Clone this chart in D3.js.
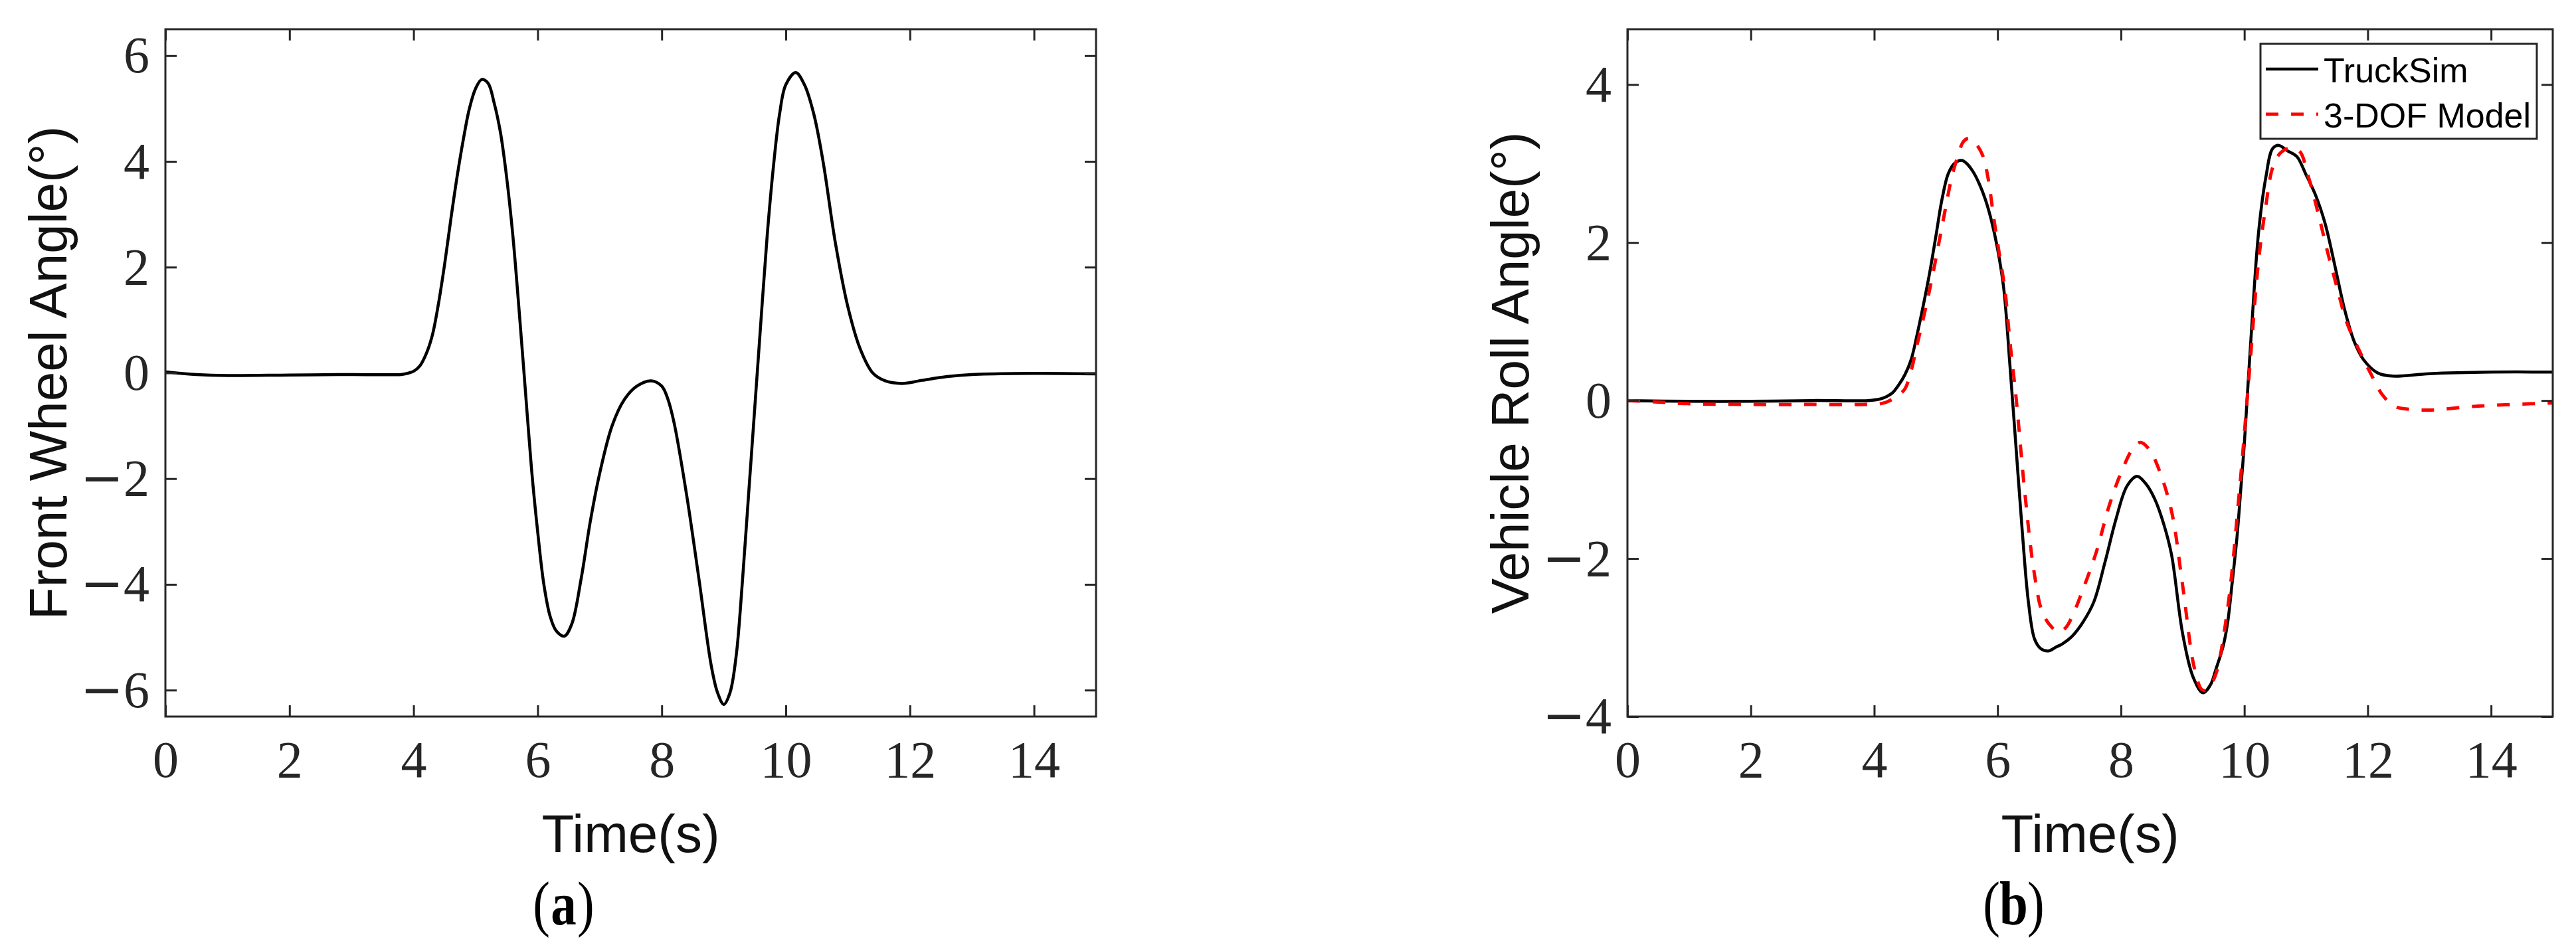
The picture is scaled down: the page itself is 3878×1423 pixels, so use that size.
<!DOCTYPE html>
<html>
<head>
<meta charset="utf-8">
<script src="https://cdn.jsdelivr.net/npm/d3@7"></script>
<style>
  html, body { margin: 0; padding: 0; background: #fff; }
  svg { display: block; }
</style>
</head>
<body>
<svg id="chart" width="3878" height="1423"></svg>
<script>
// (a) front wheel angle, deg
const frontTime = [0, 0.5, 1, 2, 3, 3.8, 3.9, 4.0, 4.1, 4.2, 4.3, 4.4, 4.5, 4.6, 4.7, 4.8, 4.9, 5.0, 5.1, 5.2, 5.3, 5.4, 5.5, 5.6, 5.7, 5.8, 5.9, 6.0, 6.1, 6.2, 6.3, 6.43, 6.55, 6.7, 6.85, 7.0, 7.2, 7.4, 7.6, 7.83, 8.0, 8.1, 8.2, 8.4, 8.6, 8.8, 8.9, 9.0, 9.1, 9.2, 9.3, 9.4, 9.5, 9.6, 9.7, 9.8, 9.9, 10.0, 10.16, 10.3, 10.45, 10.6, 10.8, 11.0, 11.2, 11.4, 11.6, 11.87, 12.2, 12.6, 13.0, 14.0, 15.0];
const frontAngle = [0.02, -0.03, -0.05, -0.04, -0.03, -0.03, -0.01, 0.03, 0.13, 0.35, 0.7, 1.3, 2.05, 2.9, 3.7, 4.4, 5.0, 5.38, 5.55, 5.48, 5.1, 4.55, 3.7, 2.6, 1.2, -0.3, -1.8, -3.0, -4.0, -4.6, -4.88, -4.98, -4.75, -3.9, -2.8, -1.9, -1.0, -0.5, -0.25, -0.15, -0.25, -0.5, -0.95, -2.3, -3.9, -5.55, -6.05, -6.27, -6.05, -5.35, -3.95, -2.3, -0.65, 1.0, 2.6, 3.9, 4.9, 5.45, 5.68, 5.45, 4.9, 4.0, 2.45, 1.25, 0.45, 0.0, -0.15, -0.2, -0.14, -0.07, -0.03, -0.01, -0.02];

// (b) vehicle roll angle, TruckSim
const truckTime = [0, 1, 2, 3, 3.9, 4.1, 4.2, 4.3, 4.4, 4.5, 4.6, 4.7, 4.8, 4.9, 5.0, 5.1, 5.2, 5.3, 5.42, 5.5, 5.6, 5.7, 5.8, 5.9, 6.0, 6.1, 6.2, 6.3, 6.4, 6.5, 6.6, 6.7, 6.82, 6.95, 7.05, 7.2, 7.38, 7.56, 7.74, 7.92, 8.1, 8.26, 8.4, 8.55, 8.7, 8.82, 9.0, 9.17, 9.33, 9.45, 9.54, 9.66, 9.73, 9.8, 9.88, 9.95, 10.0, 10.06, 10.12, 10.23, 10.35, 10.46, 10.56, 10.7, 10.85, 11.0, 11.16, 11.31, 11.47, 11.62, 11.78, 11.93, 12.16, 12.4, 13.0, 14.0, 15.0];
const truckRoll = [0, -0.01, -0.01, 0, 0, 0.02, 0.05, 0.1, 0.2, 0.33, 0.52, 0.85, 1.22, 1.62, 2.08, 2.55, 2.87, 3.0, 3.04, 3.0, 2.9, 2.75, 2.55, 2.28, 1.92, 1.42, 0.45, -0.6, -1.65, -2.55, -3.02, -3.14, -3.17, -3.12, -3.08, -2.99, -2.81, -2.55, -2.05, -1.5, -1.08, -0.96, -1.05, -1.25, -1.58, -1.95, -2.95, -3.5, -3.7, -3.6, -3.4, -3.1, -2.81, -2.33, -1.74, -1.05, -0.55, 0.2, 0.93, 2.12, 2.83, 3.19, 3.23, 3.16, 3.09, 2.86, 2.59, 2.24, 1.7, 1.17, 0.75, 0.52, 0.35, 0.31, 0.34, 0.36, 0.36];

// (b) vehicle roll angle, 3-DOF model
const modelTime = [0, 0.5, 1, 2, 3, 3.9, 4.1, 4.2, 4.3, 4.4, 4.5, 4.6, 4.7, 4.8, 4.93, 5.05, 5.15, 5.25, 5.33, 5.45, 5.54, 5.65, 5.76, 5.85, 5.94, 6.03, 6.12, 6.2, 6.3, 6.44, 6.59, 6.73, 6.88, 6.98, 7.1, 7.2, 7.38, 7.6, 7.81, 8.03, 8.21, 8.32, 8.46, 8.61, 8.82, 9.0, 9.18, 9.3, 9.36, 9.45, 9.54, 9.73, 9.92, 10.08, 10.23, 10.35, 10.46, 10.58, 10.72, 10.89, 11.04, 11.2, 11.35, 11.51, 11.66, 11.86, 12.05, 12.24, 12.43, 12.66, 13.0, 13.79, 15.0];
const modelRoll = [0, -0.02, -0.04, -0.05, -0.05, -0.05, -0.04, -0.02, 0.02, 0.07, 0.15, 0.38, 0.72, 1.05, 1.52, 2.0, 2.41, 2.8, 3.03, 3.28, 3.32, 3.25, 3.1, 2.8, 2.3, 1.85, 1.4, 0.75, 0.04, -1.15, -2.16, -2.69, -2.87, -2.93, -2.88, -2.75, -2.4, -1.92, -1.33, -0.86, -0.59, -0.53, -0.62, -0.86, -1.4, -2.34, -3.35, -3.65, -3.67, -3.6, -3.46, -2.63, -1.15, 0.34, 1.76, 2.47, 2.95, 3.13, 3.19, 3.16, 2.83, 2.36, 1.88, 1.41, 0.99, 0.64, 0.34, 0.07, -0.07, -0.11, -0.12, -0.07, -0.03];

const xTicks = [0, 2, 4, 6, 8, 10, 12, 14];
const yTicksA = [-6, -4, -2, 0, 2, 4, 6];
const yTicksB = [-4, -2, 0, 2, 4];
const legendNames = ['TruckSim', '3-DOF Model'];

const svg = d3.select('#chart');
const axisColor = '#262626';
const tickFont = '"Liberation Serif", "Times New Roman", serif';
const labelFont = '"Liberation Sans", Arial, sans-serif';

function toPoints(xs, ys) {
	return xs.map((x, i) => [x, ys[i]]);
}

// write tick numbers with a wide math-style minus
function tickLabel(sel) {
	sel.each(function (d) {
		const t = d3.select(this).text('');
		if (d < 0) {
			t.append('tspan').style('font-family', '"DejaVu Sans", sans-serif').text('\u2212');
		}
		t.append('tspan').text(Math.abs(d));
	});
}

function drawPanel(p) {
	const w = p.right - p.left;
	const h = p.bottom - p.top;
	const x = d3.scaleLinear().domain([0, 15]).range([0, w]);
	const y = d3.scaleLinear().domain(p.yDomain).range([h, 0]);
	const g = svg.append('g').attr('transform', `translate(${p.left},${p.top})`);

	const clipId = 'clip' + p.id;
	g.append('clipPath').attr('id', clipId)
		.append('rect').attr('width', w).attr('height', h);

	const line = d3.line()
		.x(d => x(d[0]))
		.y(d => y(d[1]))
		.curve(d3.curveCatmullRom.alpha(0.5));

	p.series.forEach(s => {
		g.append('path')
			.attr('clip-path', `url(#${clipId})`)
			.attr('d', line(s.data))
			.attr('fill', 'none')
			.attr('stroke', s.color)
			.attr('stroke-width', s.width)
			.attr('stroke-dasharray', s.dash || null)
			.attr('stroke-linejoin', 'round');
	});

	// axes, ticks inward on all four sides
	g.append('g').attr('class', 'xaxis').attr('transform', `translate(0,${h})`)
		.call(d3.axisBottom(x).tickValues(xTicks).tickSizeInner(-17).tickSizeOuter(0).tickPadding(36));
	g.append('g').attr('class', 'yaxis')
		.call(d3.axisLeft(y).tickValues(p.yTicks).tickSizeInner(-17).tickSizeOuter(0).tickPadding(24));
	g.append('g')
		.call(d3.axisTop(x).tickValues(xTicks).tickSizeInner(-17).tickSizeOuter(0).tickFormat(''));
	g.append('g').attr('transform', `translate(${w},0)`)
		.call(d3.axisRight(y).tickValues(p.yTicks).tickSizeInner(-17).tickSizeOuter(0).tickFormat(''));

	g.selectAll('.domain').remove();
	g.selectAll('.tick line').attr('stroke', axisColor).attr('stroke-width', 3);
	g.selectAll('.xaxis .tick text, .yaxis .tick text')
		.call(tickLabel)
		.attr('fill', axisColor)
		.style('font-family', tickFont)
		.style('font-size', '78px');

	g.append('rect')
		.attr('width', w).attr('height', h)
		.attr('fill', 'none')
		.attr('stroke', axisColor)
		.attr('stroke-width', 3);

	// axis labels
	g.append('text')
		.attr('x', w / 2).attr('y', h + 204)
		.attr('text-anchor', 'middle')
		.style('font-family', labelFont).style('font-size', '80px')
		.attr('fill', '#111')
		.text('Time(s)');
	g.append('text')
		.attr('transform', `translate(-149,${h / 2}) rotate(-90)`)
		.attr('text-anchor', 'middle')
		.style('font-family', labelFont).style('font-size', '80px')
		.attr('fill', '#111')
		.text(p.yLabel);

	// panel tag (a)/(b), narrow serif
	const tag = g.append('g')
		.attr('transform', `translate(${w / 2 + p.tagShift},${h + 313}) scale(0.82,1)`)
		.style('font-family', tickFont).style('font-size', '94px')
		.attr('fill', '#000');
	tag.append('text').attr('x', -25).attr('text-anchor', 'end').text('(');
	tag.append('text').attr('x', 0).attr('text-anchor', 'middle').attr('font-weight', 'bold').text(p.tag);
	tag.append('text').attr('x', 25).attr('text-anchor', 'start').text(')');

	if (p.legend) {
		const lg = g.append('g').attr('transform', `translate(${w - 440},22)`);
		lg.append('rect')
			.attr('width', 416).attr('height', 143)
			.attr('fill', '#fff')
			.attr('stroke', axisColor).attr('stroke-width', 3);
		p.series.forEach((s, i) => {
			const cy = 38 + i * 68;
			lg.append('line')
				.attr('x1', 8).attr('x2', 87).attr('y1', cy).attr('y2', cy)
				.attr('stroke', s.color).attr('stroke-width', s.width)
				.attr('stroke-dasharray', s.dash || null);
			lg.append('text')
				.attr('x', 95).attr('y', cy + 20)
				.style('font-family', labelFont).style('font-size', '52px')
				.attr('fill', '#000')
				.text(legendNames[i]);
		});
	}
}

drawPanel({
	id: 'a', left: 249, right: 1650, top: 44, bottom: 1079,
	yDomain: [-6.5, 6.5], yTicks: yTicksA,
	yLabel: 'Front Wheel Angle(°)', tag: 'a', tagShift: -101,
	series: [{ data: toPoints(frontTime, frontAngle), color: '#000', width: 4.5 }]
});

drawPanel({
	id: 'b', left: 2450, right: 3843, top: 44, bottom: 1079,
	yDomain: [-4, 4.7], yTicks: yTicksB,
	yLabel: 'Vehicle Roll Angle(°)', tag: 'b', tagShift: -115,
	legend: true,
	series: [
		{ data: toPoints(truckTime, truckRoll), color: '#000', width: 4.5 },
		{ data: toPoints(modelTime, modelRoll), color: '#ff0000', width: 5, dash: '19,19' }
	]
});
</script>
</body>
</html>
